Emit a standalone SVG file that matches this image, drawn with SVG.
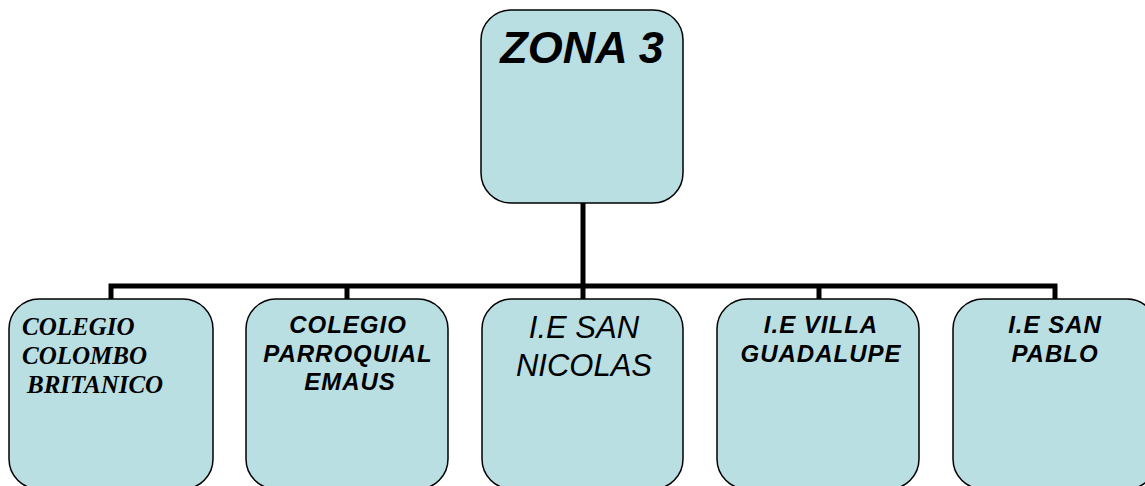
<svg xmlns="http://www.w3.org/2000/svg" width="1145" height="486" viewBox="0 0 1145 486">
<style>
.box{fill:#BADFE3;stroke:#000;stroke-width:1.5}
.conn{fill:none;stroke:#000;stroke-width:5}
.ab{font-family:"Liberation Sans",Arial,sans-serif;font-weight:bold;font-style:italic;fill:#000}
.sm{letter-spacing:1px}
.ai{font-family:"Liberation Sans",Arial,sans-serif;font-style:italic;fill:#000}
.tb{font-family:"Liberation Serif","Times New Roman",serif;font-weight:bold;font-style:italic;fill:#000}
</style>
<rect width="1145" height="486" fill="#fff"/>
<g id="connectors">
<line class="conn" x1="583" y1="203" x2="583" y2="286"/>
<polyline class="conn" points="111,299 111,286 1055,286 1055,299"/>
<line class="conn" x1="347" y1="286" x2="347" y2="299"/>
<line class="conn" x1="583" y1="286" x2="583" y2="299"/>
<line class="conn" x1="819" y1="286" x2="819" y2="299"/>
</g>
<g id="zona3">
<rect class="box" x="481" y="10" width="202" height="193" rx="30"/>
<text class="ab" x="582" y="63" font-size="45" text-anchor="middle">ZONA 3</text>
</g>
<g id="colombo">
<rect class="box" x="9" y="299" width="204" height="190" rx="30"/>
<text class="tb" font-size="25"><tspan x="22" y="335">COLEGIO</tspan><tspan x="22" y="364">COLOMBO</tspan><tspan x="27" y="393">BRITANICO</tspan></text>
</g>
<g id="emaus">
<rect class="box" x="246" y="299" width="202" height="190" rx="30"/>
<text class="ab sm" font-size="24" text-anchor="middle"><tspan x="348" y="333">COLEGIO</tspan><tspan x="348" y="362">PARROQUIAL</tspan><tspan x="350" y="390">EMAUS</tspan></text>
</g>
<g id="sannicolas">
<rect class="box" x="482" y="299" width="201" height="190" rx="30"/>
<text class="ai" font-size="31" text-anchor="middle"><tspan x="584" y="338">I.E SAN</tspan><tspan x="584" y="376">NICOLAS</tspan></text>
</g>
<g id="villaguadalupe">
<rect class="box" x="717" y="299" width="202" height="190" rx="30"/>
<text class="ab sm" font-size="24" text-anchor="middle"><tspan x="821" y="333">I.E VILLA</tspan><tspan x="821" y="362">GUADALUPE</tspan></text>
</g>
<g id="sanpablo">
<rect class="box" x="953" y="299" width="204" height="190" rx="30"/>
<text class="ab sm" font-size="24" text-anchor="middle"><tspan x="1055" y="333">I.E SAN</tspan><tspan x="1055" y="362">PABLO</tspan></text>
</g>
</svg>
